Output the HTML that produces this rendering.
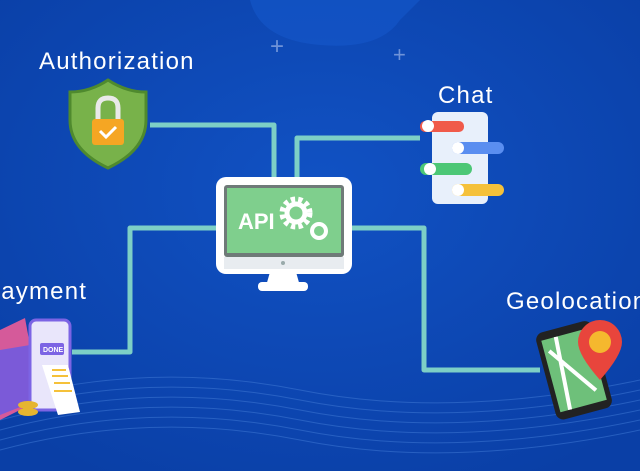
<!DOCTYPE html>
<html><head><style>
body{margin:0;width:640px;height:471px;overflow:hidden;background:#0c47b2;font-family:"Liberation Sans",sans-serif}
.t{position:absolute;color:#fff;font-size:24px;letter-spacing:1.2px}
</style></head><body>
<svg width="640" height="471" style="position:absolute;left:0;top:0">
<defs><radialGradient id="g" cx="50%" cy="40%" r="70%"><stop offset="0" stop-color="#1152c4"/><stop offset="1" stop-color="#0a3fa6"/></radialGradient></defs>
<rect width="640" height="471" fill="url(#g)"/>
<path d="M250 0 Q260 40 320 45 Q380 50 400 20 L420 0Z" fill="#1456c8" opacity=".7"/>
<text x="270" y="54" fill="#6f93d8" font-size="24">+</text>
<text x="393" y="62" fill="#6f93d8" font-size="22">+</text>
<g fill="none" stroke="#3a73d0" stroke-width="1" opacity=".6">
<path d="M0 400 Q150 360 300 390 T640 380"/><path d="M0 410 Q150 370 300 400 T640 390"/><path d="M0 420 Q150 380 300 410 T640 400"/><path d="M0 430 Q150 390 300 420 T640 410"/><path d="M0 440 Q150 400 300 430 T640 420"/><path d="M0 450 Q150 410 300 440 T640 430"/></g>
<g fill="none" stroke="#7dcfc6" stroke-width="5" stroke-linejoin="round">
<path d="M150 125 H274 V182"/>
<path d="M297 182 V138 H420"/>
<path d="M222 228 H130 V352 H72"/>
<path d="M348 228 H424 V370 H540"/>
</g>
<rect x="216" y="177" width="136" height="97" rx="10" fill="#fff"/>
<rect x="224" y="185" width="120" height="72" rx="3" fill="#6f7a78"/>
<rect x="227" y="188" width="114" height="65" fill="#7fcf8d"/>
<rect x="224" y="257" width="120" height="12" fill="#e8ecf0"/>
<circle cx="283" cy="263" r="2" fill="#9aa"/>
<path d="M270 272 H296 L300 286 H266Z" fill="#fff"/>
<rect x="258" y="282" width="50" height="9" rx="4" fill="#fff"/>
<text x="238" y="229" fill="#fff" font-size="22" font-weight="bold">API</text>
<circle cx="296" cy="213" r="13" fill="none" stroke="#fff" stroke-width="7" stroke-dasharray="4 3"/>
<circle cx="296" cy="213" r="9" fill="none" stroke="#fff" stroke-width="5"/>
<circle cx="319" cy="231" r="7" fill="none" stroke="#fff" stroke-width="4"/>
<path d="M108 80 Q90 92 70 92 V120 Q70 150 108 168 Q146 150 146 120 V92 Q126 92 108 80Z" fill="#78b24a" stroke="#4f8a2e" stroke-width="3"/>
<path d="M98 120 V108 Q98 98 108 98 Q118 98 118 108 V120" fill="none" stroke="#e9e9e9" stroke-width="5"/>
<rect x="92" y="119" width="32" height="26" rx="3" fill="#f5a623"/>
<path d="M100 131 l6 6 l10 -10" fill="none" stroke="#fff" stroke-width="3"/>
<rect x="432" y="112" width="56" height="92" rx="6" fill="#e8f0fb"/>
<rect x="420" y="121" width="44" height="11" rx="5" fill="#f05a4a"/><circle cx="428" cy="126" r="6" fill="#fff"/>
<rect x="452" y="142" width="52" height="12" rx="6" fill="#5a8ef0"/><circle cx="458" cy="148" r="6" fill="#fff"/>
<rect x="420" y="163" width="52" height="12" rx="6" fill="#4cc776"/><circle cx="430" cy="169" r="6" fill="#fff"/>
<rect x="452" y="184" width="52" height="12" rx="6" fill="#f5c13a"/><circle cx="458" cy="190" r="6" fill="#fff"/>
<g transform="rotate(-15 575 370)"><rect x="545" y="325" width="58" height="90" rx="8" fill="#222"/><rect x="550" y="333" width="48" height="74" fill="#6ec07a"/><path d="M555 345 L590 395 M565 333 L560 407" stroke="#fff" stroke-width="4"/></g>
<path d="M600 380 Q578 355 578 342 A22 22 0 0 1 622 342 Q622 355 600 380Z" fill="#e8453c"/>
<circle cx="600" cy="342" r="11" fill="#f5b82e"/>
<path d="M0 330 L25 318 L40 400 L0 420Z" fill="#d55a9a"/>
<path d="M0 350 L30 345 L38 400 L0 415Z" fill="#7b5ad8"/>
<rect x="30" y="320" width="40" height="90" rx="6" fill="#e9e6fb" stroke="#7c64e4" stroke-width="3"/>
<rect x="40" y="343" width="24" height="12" rx="2" fill="#7c64e4"/>
<text x="43" y="352" fill="#fff" font-size="7" font-weight="bold">DONE</text>
<path d="M42 365 H68 L80 412 L58 415Z" fill="#fff"/>
<g stroke="#f5c13a" stroke-width="2"><line x1="52" y1="370" x2="66" y2="370"/><line x1="52" y1="376" x2="68" y2="376"/><line x1="54" y1="383" x2="70" y2="383"/><line x1="54" y1="391" x2="72" y2="391"/></g>
<ellipse cx="28" cy="405" rx="10" ry="4" fill="#e6b530"/><ellipse cx="28" cy="412" rx="10" ry="4" fill="#e6b530"/>
</svg>
<div class="t" style="left:39px;top:48px">Authorization</div>
<div class="t" style="left:438px;top:82px">Chat</div>
<div class="t" style="left:-16px;top:278px">Payment</div>
<div class="t" style="left:506px;top:288px">Geolocation</div>
</body></html>
